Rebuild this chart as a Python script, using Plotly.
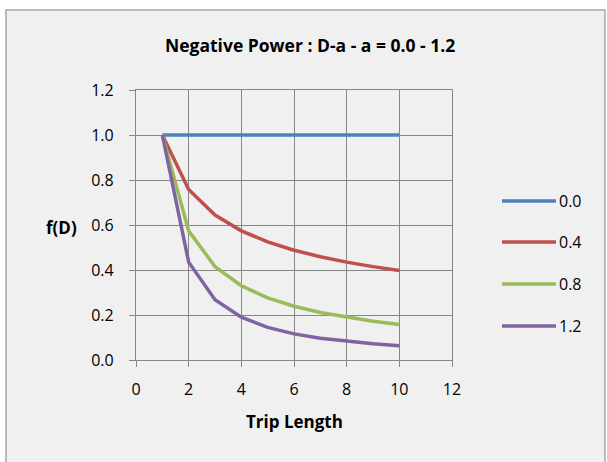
import plotly.graph_objects as go

trip_length = [1, 2, 3, 4, 5, 6, 7, 8, 9, 10]
series_names = ["0.0", "0.4", "0.8", "1.2"]
f_a00 = [1.0, 1.0, 1.0, 1.0, 1.0, 1.0, 1.0, 1.0, 1.0, 1.0]
f_a04 = [1.0, 0.758, 0.644, 0.574, 0.525, 0.488, 0.459, 0.435, 0.415, 0.398]
f_a08 = [1.0, 0.574, 0.415, 0.330, 0.276, 0.239, 0.211, 0.190, 0.172, 0.158]
f_a12 = [1.0, 0.435, 0.268, 0.190, 0.145, 0.116, 0.097, 0.083, 0.072, 0.063]
series_values = [f_a00, f_a04, f_a08, f_a12]
colors = ["#4F81BD", "#C0504D", "#9BBB59", "#8064A2"]

W, H = 607, 462
L, R, T, B = 136, 452, 90, 360  # plot area in px

def px_x(px):
    return (px - L) / (R - L)

def px_y(py):
    return (B - py) / (B - T)

FONT = "Open Sans, sans-serif"
fig = go.Figure()
for name, vals, c in zip(series_names, series_values, colors):
    fig.add_trace(go.Scatter(x=trip_length, y=vals, mode="lines", name=name,
                             line=dict(color=c, width=3.5), showlegend=False))

shapes = [dict(type="rect", xref="paper", yref="paper", layer="below",
               x0=px_x(6), x1=px_x(605), y0=px_y(475), y1=px_y(10),
               fillcolor="#F0F0F0", line=dict(color="#A6A6A6", width=1.5))]
annotations = [
    dict(text="<b>Negative Power : D-a - a = 0.0 - 1.2</b>", xref="paper", yref="paper",
         x=px_x(310), y=px_y(45), xanchor="center", yanchor="middle", showarrow=False,
         font=dict(size=17.5, color="#000", family=FONT)),
    dict(text="<b>f(D)</b>", xref="paper", yref="paper", x=px_x(61), y=px_y(227),
         xanchor="center", yanchor="middle",
         showarrow=False, font=dict(size=17, color="#000", family=FONT)),
    dict(text="<b>Trip Length</b>", xref="paper", yref="paper", x=px_x(294), y=px_y(421),
         xanchor="center", yanchor="middle",
         showarrow=False, font=dict(size=17, color="#000", family=FONT)),
]
leg_y = [201, 242, 284, 326]
for name, c, ly in zip(series_names, colors, leg_y):
    shapes.append(dict(type="line", xref="paper", yref="paper", x0=px_x(502), x1=px_x(556),
                       y0=px_y(ly), y1=px_y(ly), line=dict(color=c, width=3.5)))
    annotations.append(dict(text=name, xref="paper", yref="paper", x=px_x(557), y=px_y(ly),
                            xanchor="left", yanchor="middle", showarrow=False,
                            font=dict(size=16, color="#000", family=FONT)))

axis_common = dict(showgrid=True, gridcolor="#868686", gridwidth=1.3,
                   showline=True, linecolor="#868686", linewidth=1.3, mirror=True,
                   ticks="outside", ticklen=6, tickcolor="#868686", tickwidth=1.3,
                   zeroline=False, tickfont=dict(size=16, color="#000", family=FONT))
fig.update_layout(
    width=W, height=H, margin=dict(l=L, r=W - R, t=T, b=H - B),
    paper_bgcolor="white", plot_bgcolor="white",
    xaxis=dict(range=[0, 12], dtick=2, tick0=0, ticklabelstandoff=9, **axis_common),
    yaxis=dict(range=[0, 1.2], dtick=0.2, tick0=0, tickformat=".1f", ticklabelstandoff=12,
               **axis_common),
    shapes=shapes, annotations=annotations, showlegend=False,
)
fig.write_html("out.html")
